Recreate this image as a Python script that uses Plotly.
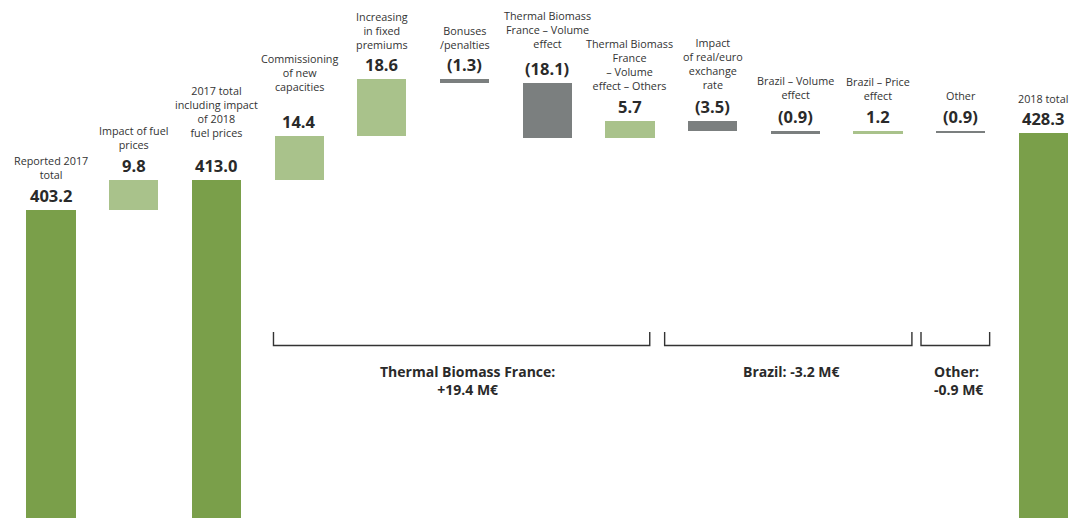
import plotly.graph_objects as go

# ---------------- data ----------------
categories = [
    "Reported 2017<br>total",
    "Impact of fuel<br>prices",
    "2017 total<br>including impact<br>of 2018<br>fuel prices",
    "Commissioning<br>of new<br>capacities",
    "Increasing<br>in fixed<br>premiums",
    "Bonuses<br>/penalties",
    "Thermal Biomass<br>France – Volume<br>effect",
    "Thermal Biomass<br>France<br>– Volume<br>effect – Others",
    "Impact<br>of real/euro<br>exchange<br>rate",
    "Brazil – Volume<br>effect",
    "Brazil – Price<br>effect",
    "Other",
    "2018 total",
]
values = [403.2, 9.8, 413.0, 14.4, 18.6, -1.3, -18.1, 5.7, -3.5, -0.9, 1.2, -0.9, 428.3]
kinds = ["total", "delta", "total", "delta", "delta", "delta", "delta",
         "delta", "delta", "delta", "delta", "delta", "total"]
value_labels = ["403.2", "9.8", "413.0", "14.4", "18.6", "(1.3)", "(18.1)",
                "5.7", "(3.5)", "(0.9)", "1.2", "(0.9)", "428.3"]

group_labels = ["Thermal Biomass France:<br>+19.4 M€", "Brazil: -3.2 M€", "Other:<br>-0.9 M€"]

# ---------------- styles / layout ----------------
C_TOTAL = "#7a9f4a"
C_POS = "#a9c28b"
C_NEG = "#7b7f7f"
TXT = "#333333"
FONT = "Open Sans"

# extra vertical gap (px) of the category label above the bar top
cat_shift = [26, 26, 38, 40, 25, 25, 30, 26, 27, 27, 26, 26, 25]

x = list(range(len(values)))
bases, heights, colors, tops = [], [], [], []
running = 0.0
for v, k in zip(values, kinds):
    if k == "total":
        bases.append(0.0)
        heights.append(v)
        colors.append(C_TOTAL)
        running = v
        tops.append(v)
    else:
        b = running if v >= 0 else running + v
        bases.append(b)
        heights.append(abs(v))
        colors.append(C_POS if v >= 0 else C_NEG)
        running += v
        tops.append(b + abs(v))

fig = go.Figure()
fig.add_trace(go.Bar(
    x=x, y=heights, base=bases, width=0.595,
    marker=dict(color=colors, line=dict(width=0)),
    hoverinfo="skip", showlegend=False,
))

ann = []
for i in x:
    ann.append(dict(x=i, y=tops[i], xref="x", yref="y", text=value_labels[i],
                    showarrow=False, yanchor="bottom", yshift=1,
                    font=dict(family=FONT, size=16.5, color="#2a2a2a", weight="bold")))
    ann.append(dict(x=i, y=tops[i], xref="x", yref="y", text=categories[i],
                    showarrow=False, yanchor="bottom", yshift=cat_shift[i],
                    font=dict(family=FONT, size=10.8, color=TXT)))

# group brackets (x in category units, y in paper units)
brackets = [(2.69, 7.24), (7.42, 10.41), (10.52, 11.35)]
y_top, y_bot = 1 - 332 / 518, 1 - 345.5 / 518
shapes = []
for a, b in brackets:
    shapes.append(dict(type="path", xref="x", yref="paper",
                       path=f"M {a},{y_top} L {a},{y_bot} L {b},{y_bot} L {b},{y_top}",
                       line=dict(color="#333333", width=1.4)))

gfont = dict(family=FONT, size=14, color="#2a2a2a", weight="bold")
ann.append(dict(x=5.04, y=1 - 360 / 518, xref="x", yref="paper", text=group_labels[0],
                showarrow=False, yanchor="top", align="center", font=gfont))
ann.append(dict(x=8.96, y=1 - 360 / 518, xref="x", yref="paper", text=group_labels[1],
                showarrow=False, yanchor="top", align="center", font=gfont))
ann.append(dict(x=10.65, y=1 - 360 / 518, xref="x", yref="paper", text=group_labels[2],
                showarrow=False, yanchor="top", xanchor="left", align="left", font=gfont))

fig.update_layout(
    width=1073, height=518,
    margin=dict(l=0, r=0, t=0, b=0),
    paper_bgcolor="white", plot_bgcolor="white",
    xaxis=dict(range=[-0.617, 12.358], visible=False, fixedrange=True),
    yaxis=dict(range=[302.8, 471.65], visible=False, fixedrange=True),
    annotations=ann, shapes=shapes,
    bargap=0,
)

fig.write_html("out.html", config={"displayModeBar": False})
